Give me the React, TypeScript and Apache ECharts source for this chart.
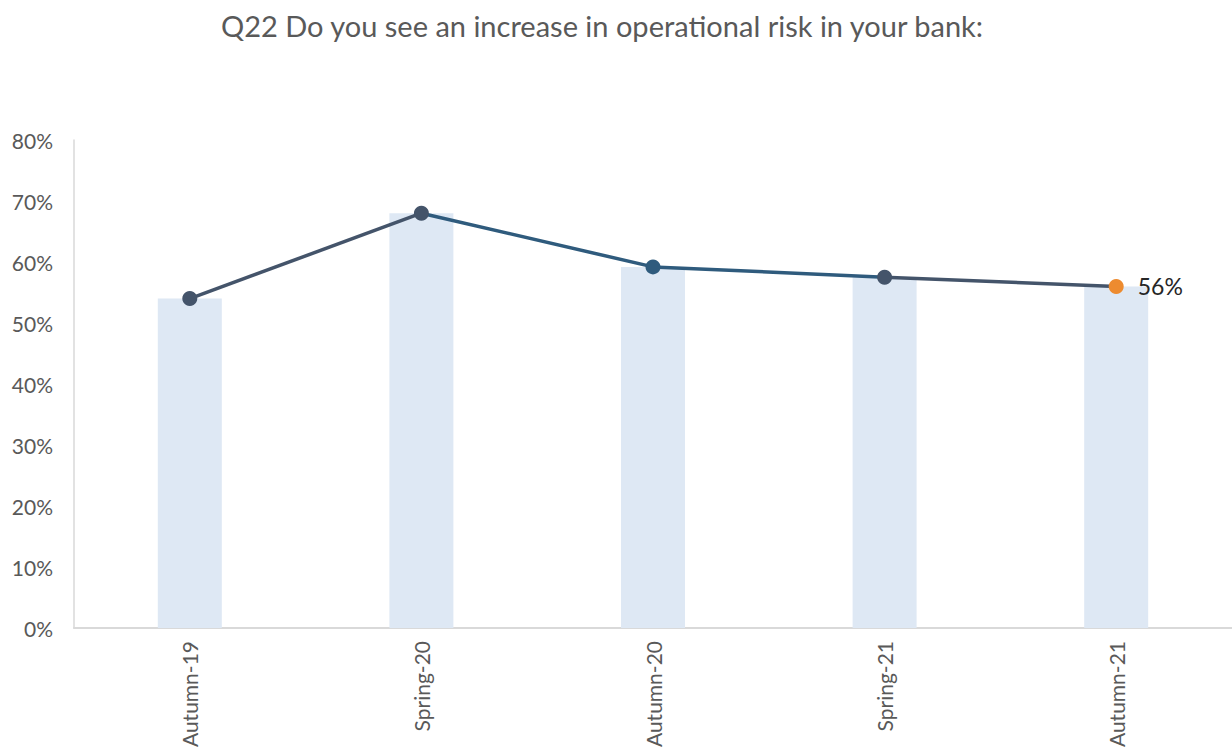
import React, { useEffect, useRef } from "react";
import * as echarts from "echarts";

const categories = ["Autumn-19", "Spring-20", "Autumn-20", "Spring-21", "Autumn-21"];
const barValues = [54, 68, 59.2, 57.5, 56];
const lineValues = [54, 68, 59.2, 57.5, 56];
const yTicks = [0, 10, 20, 30, 40, 50, 60, 70, 80];

const SLATE = "#44546A";
const BLUE = "#2F5B7D";
const ORANGE = "#ED8B2F";

export default function App() {
  const ref = useRef<HTMLDivElement>(null);
  useEffect(() => {
    if (!ref.current) return;
    const chart = echarts.init(ref.current, undefined, { renderer: "svg" });
    const seg = (from: number, to: number) =>
      lineValues.map((v, i) => (i >= from && i <= to ? v : null));
    const pointColors = [SLATE, SLATE, BLUE, SLATE, ORANGE];
    chart.setOption({
      animation: false,
      title: {
        text: "Q22 Do you see an increase in operational risk in your bank:",
        left: 597,
        textAlign: "center",
        top: 6,
        textStyle: { fontFamily: "Lato", fontSize: 29, fontWeight: "normal", color: "#595959" },
      },
      grid: { left: 74, right: -1, top: 140, bottom: 128, containLabel: false },
      xAxis: {
        type: "category",
        data: categories,
        boundaryGap: true,
        axisLine: { show: true, lineStyle: { color: "#D9D9D9", width: 2 } },
        axisTick: { show: false },
        axisLabel: { rotate: 90, margin: 13, fontFamily: "Lato", fontSize: 21, color: "#595959" },
      },
      yAxis: {
        type: "value",
        min: 0,
        max: 80,
        interval: 10,
        axisLine: { show: true, lineStyle: { color: "#D9D9D9", width: 1.5 } },
        axisTick: { show: false },
        splitLine: { show: false },
        axisLabel: {
          margin: 21,
          fontFamily: "Lato",
          fontSize: 21,
          color: "#595959",
          formatter: (v: number) => (yTicks.includes(v) ? v + "%" : ""),
        },
      },
      series: [
        {
          type: "bar",
          data: barValues,
          barWidth: 64,
          itemStyle: { color: "#DEE8F4" },
          z: 1,
        },
        {
          type: "line",
          data: seg(0, 1),
          symbol: "none",
          lineStyle: { color: SLATE, width: 3.5 },
          z: 2,
        },
        {
          type: "line",
          data: seg(1, 3),
          symbol: "none",
          lineStyle: { color: BLUE, width: 3.5 },
          z: 2,
        },
        {
          type: "line",
          data: seg(3, 4),
          symbol: "none",
          lineStyle: { color: SLATE, width: 3.5 },
          z: 2,
        },
        {
          type: "scatter",
          data: lineValues.map((v, i) => ({
            value: v,
            itemStyle: { color: pointColors[i], opacity: 1 },
            label:
              i === lineValues.length - 1
                ? {
                    show: true,
                    position: "right",
                    distance: 14,
                    formatter: Math.round(v) + "%",
                    fontFamily: "Lato",
                    fontSize: 23,
                    color: "#262626",
                  }
                : { show: false },
          })),
          symbolSize: 15,
          itemStyle: { opacity: 1 },
          z: 3,
        },
      ],
    });
    return () => chart.dispose();
  }, []);
  return <div ref={ref} style={{ width: 1232, height: 756, position: "absolute", left: 0, top: 0 }} />;
}
